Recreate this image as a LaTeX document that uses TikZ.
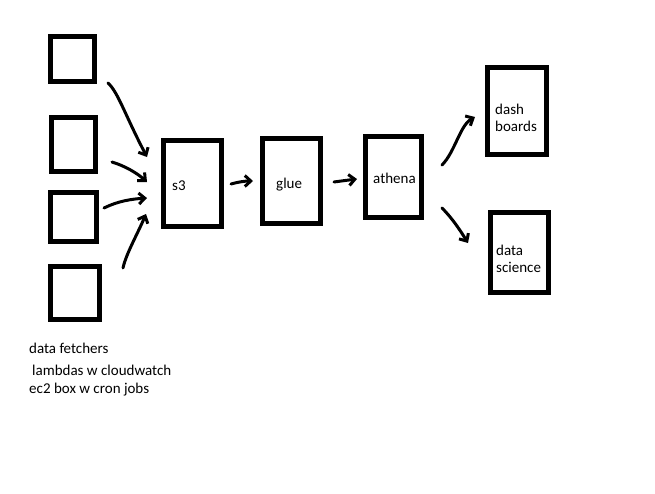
\documentclass[tikz,border=0pt]{standalone}
\usepackage{fontspec}
\setmainfont{Carlito}
\usetikzlibrary{arrows.meta}
\begin{document}
\begin{tikzpicture}[x=1pt,y=-1pt,
  box/.style={draw,line width=5pt},
  lbl/.style={font=\fontsize{15}{16.5}\selectfont,anchor=west,inner sep=0pt,align=left},
  arr/.style={line width=3pt,line cap=round,-{Straight Barb[length=6pt,width=11pt,line width=3pt]}}]
\useasboundingbox (0,0) rectangle (655,493);
% source boxes
\draw[box] (50.5,36.5) rectangle (94.5,81.5);
\draw[box] (51.5,117.5) rectangle (95.5,171);
\draw[box] (50.5,192.5) rectangle (96.5,241.5);
\draw[box] (50.5,266.5) rectangle (99.5,319.5);
% main boxes
\draw[box] (163.5,140.5) rectangle (221.5,226.5);
\node[lbl] (s3) at (172,186) {s3};
\draw[box] (262.5,138.5) rectangle (320.5,223.5);
\node[lbl] (glue) at (276,185) {glue};
\draw[box] (365.5,136.5) rectangle (421.5,217.5);
\node[lbl] (athena) at (373,178) {athena};
\draw[box] (487.5,67.5) rectangle (546.5,154.5);
\node[lbl] (dash) at (495,118) {dash\\boards};
\draw[box] (490.5,212.5) rectangle (548.5,292.5);
\node[lbl] (sci) at (496,259) {data\\science};
% coordinates for hand drawn arrows
\coordinate (a1s) at (108,83); \coordinate (a1e) at (147,157);
\coordinate (a2s) at (112,162); \coordinate (a2e) at (147,182);
\coordinate (a3s) at (104,208); \coordinate (a3e) at (147,198);
\coordinate (a4s) at (123,268); \coordinate (a4e) at (146,214);
\coordinate (b1s) at (231,184); \coordinate (b1e) at (253,181);
\coordinate (b2s) at (334,182); \coordinate (b2e) at (357,179);
\coordinate (c1s) at (442,165); \coordinate (c1e) at (475,117);
\coordinate (c2s) at (442,208); \coordinate (c2e) at (468,243);
\draw[arr] (a1s) .. controls (118,92) and (125,115) .. (a1e);
\draw[arr] (a2s) .. controls (125,166) and (137,173) .. (a2e);
\draw[arr] (a3s) .. controls (118,201) and (132,199) .. (a3e);
\draw[arr] (a4s) .. controls (126,254) and (137,235) .. (a4e);
\draw[arr] (b1s) .. controls (238,182) and (245,181) .. (b1e);
\draw[arr] (b2s) .. controls (341,181) and (349,180) .. (b2e);
\draw[arr] (c1s) .. controls (455,152) and (460,125) .. (c1e);
\draw[arr] (c2s) .. controls (452,218) and (460,230) .. (c2e);
% caption
\node[lbl] (cap1) at (29,348) {data fetchers};
\node[lbl] (cap2) at (32,370) {lambdas w cloudwatch};
\node[lbl] (cap3) at (29,390) {ec2 box w cron jobs};
\end{tikzpicture}
\end{document}
